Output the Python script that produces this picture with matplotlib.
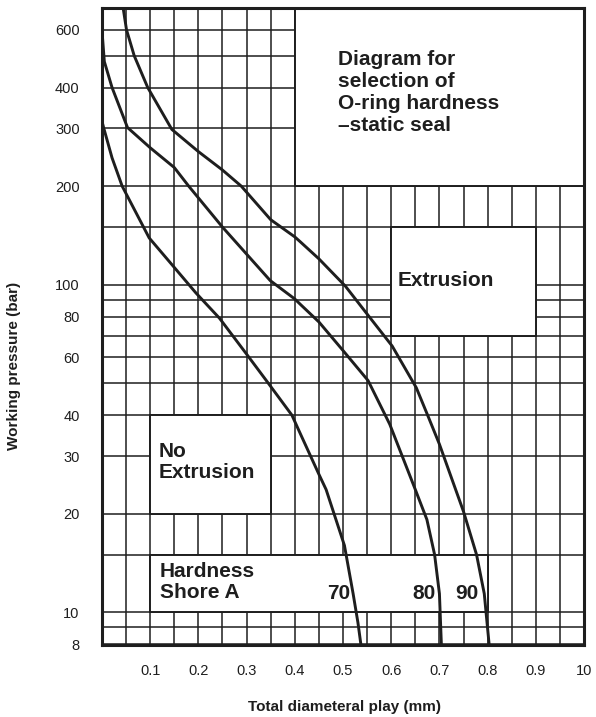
import matplotlib.pyplot as plt
from matplotlib.patches import Rectangle

plt.rcParams['font.family'] = ['Liberation Sans', 'DejaVu Sans']

# curves: (total diametral play mm, working pressure bar)
x70 = [0.0, 0.004, 0.021, 0.042, 0.098, 0.15, 0.195, 0.244, 0.299, 0.341, 0.394, 0.41, 0.45, 0.465, 0.503, 0.521, 0.531, 0.537]
y70 = [316, 300, 244, 200, 139, 113, 94.4, 79, 61.7, 51, 40, 35.5, 26.4, 23.7, 16, 11.4, 9.3, 8]

x80 = [0.0, 0.005, 0.021, 0.053, 0.1, 0.15, 0.18, 0.25, 0.349, 0.4, 0.412, 0.45, 0.5, 0.552, 0.597, 0.65, 0.674, 0.69, 0.7, 0.704]
y80 = [600, 480, 400, 302, 262, 228, 200, 150, 103, 90.5, 87, 77, 63, 51, 37.5, 23.7, 19.2, 15, 11.4, 8]

x90 = [0.044, 0.051, 0.067, 0.095, 0.145, 0.2, 0.25, 0.289, 0.35, 0.4, 0.412, 0.45, 0.505, 0.554, 0.602, 0.652, 0.677, 0.7, 0.75, 0.777, 0.793, 0.803]
y90 = [700, 600, 500, 400, 298, 255, 224, 200, 158, 140, 135, 120, 99, 80, 65, 48.5, 39.5, 32.6, 20.3, 15, 11.4, 8]

curve_labels = ['70', '80', '90']
curve_label_x = [0.492, 0.667, 0.757]

grid_y = [8, 9, 10, 15, 20, 30, 40, 50, 60, 70, 80, 90, 100, 150, 200, 300, 400, 500, 600]
grid_x = [0.05, 0.1, 0.15, 0.2, 0.25, 0.3, 0.35, 0.4, 0.45, 0.5, 0.55, 0.6, 0.65, 0.7, 0.75, 0.8, 0.85, 0.9, 0.95]

yticks = [8, 10, 20, 30, 40, 60, 80, 100, 200, 300, 400, 600]
xticks = [0.1, 0.2, 0.3, 0.4, 0.5, 0.6, 0.7, 0.8, 0.9, 1.0]
xtick_labels = ['0.1', '0.2', '0.3', '0.4', '0.5', '0.6', '0.7', '0.8', '0.9', '10']

# blank boxes (x0, x1, y0, y1)
boxes = [(0.4, 1.0, 200, 700), (0.6, 0.9, 70, 150), (0.1, 0.35, 20, 40), (0.1, 0.8, 10, 15)]

ink = '#1e1e1e'
ymin, ymax = 7.95, 700

fig = plt.figure(figsize=(5.96, 7.17), dpi=100)
ax = fig.add_axes([0.171, 0.1004, 0.809, 0.8886])
ax.set_yscale('log')
ax.set_xlim(0, 1.0)
ax.set_ylim(ymin, ymax)

for v in grid_y:
    ax.axhline(v, color=ink, lw=1.1, zorder=1)
for v in grid_x:
    ax.axvline(v, color=ink, lw=1.1, zorder=1)

for x0, x1, y0, y1 in boxes:
    ax.add_patch(Rectangle((x0, y0), x1 - x0, y1 - y0, facecolor='white',
                           edgecolor=ink, lw=1.4, zorder=2))

for xs, ys in [(x70, y70), (x80, y80), (x90, y90)]:
    ax.plot(xs, ys, color=ink, lw=2.1, zorder=3, solid_joinstyle='round')

bold = dict(fontsize=15, fontweight='bold', color=ink, zorder=4)
ax.text(0.49, 387, 'Diagram for\nselection of\nO-ring hardness\n\u2013static seal',
        ha='left', va='center', linespacing=1.2, **bold)
ax.text(0.614, 103, 'Extrusion', ha='left', va='center', **bold)
ax.text(0.118, 28.8, 'No\nExtrusion', ha='left', va='center', linespacing=1.1, **bold)
ax.text(0.12, 12.4, 'Hardness\nShore A', ha='left', va='center', linespacing=1.1, **bold)
for lab, lx in zip(curve_labels, curve_label_x):
    ax.text(lx, 11.4, lab, ha='center', va='center', **bold)

ax.set_yticks(yticks)
ax.set_yticklabels([str(t) for t in yticks])
ax.yaxis.set_minor_locator(plt.NullLocator())
ax.set_xticks(xticks)
ax.set_xticklabels(xtick_labels)
ax.tick_params(axis='both', length=0, labelsize=10.5, colors=ink)
ax.tick_params(axis='x', pad=14)
ax.tick_params(axis='y', pad=16)
for s in ax.spines.values():
    s.set_linewidth(2.2)
    s.set_color(ink)
    s.set_zorder(5)

fig.text(345 / 596, 1 - 707 / 717, 'Total diameteral play (mm)', ha='center', va='center',
         fontsize=11, fontweight='bold', color=ink)
fig.text(14 / 596, 1 - 366 / 717, 'Working pressure (bar)', ha='center', va='center',
         rotation=90, fontsize=11, fontweight='bold', color=ink)

fig.savefig('out.png', dpi=100, facecolor='white')
